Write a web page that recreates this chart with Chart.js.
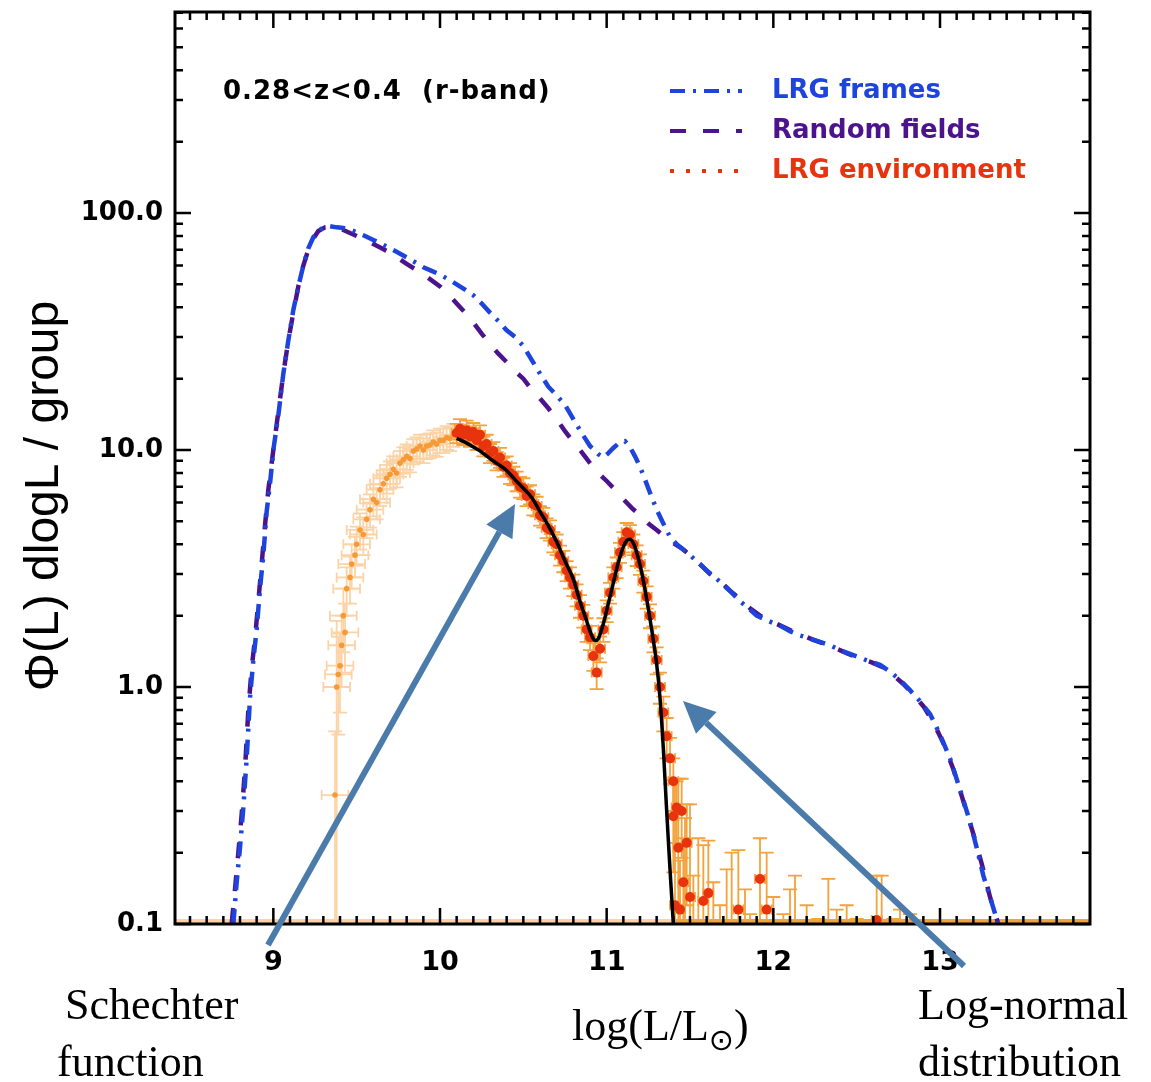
<!DOCTYPE html>
<html>
<head>
<meta charset="utf-8">
<title>LRG luminosity function</title>
<script src="https://cdn.jsdelivr.net/npm/chart.js@4.4.1/dist/chart.umd.min.js"></script>
<style>
  html, body { margin: 0; padding: 0; background: #fff; }
  canvas { display: block; }
</style>
</head>
<body>
<canvas id="lfChart" width="1151" height="1082"></canvas>
<script>
// axis ticks
const xTicks = [9, 10, 11, 12, 13];
const yTicks = [0.1, 1, 10, 100];
const yTickLabels = ['0.1', '1.0', '10.0', '100.0'];

// LRG frames (blue, dash-dot)
const framesX = [
  8.76, 8.78, 8.80, 8.82, 8.84, 8.86, 8.88, 8.90, 8.92, 8.94,
  8.96, 8.98, 9.00, 9.03, 9.06, 9.09, 9.12, 9.15, 9.18, 9.21,
  9.24, 9.27, 9.30, 9.34, 9.38, 9.42, 9.46, 9.50, 9.55, 9.60,
  9.65, 9.70, 9.75, 9.80, 9.85, 9.90, 9.95, 10.00, 10.05, 10.10,
  10.15, 10.20, 10.25, 10.30, 10.35, 10.40, 10.45, 10.50, 10.55, 10.60,
  10.65, 10.70, 10.75, 10.80, 10.85, 10.90, 10.95, 10.98, 11.01, 11.04,
  11.08, 11.11, 11.14, 11.17, 11.20, 11.23, 11.26, 11.30, 11.34, 11.38,
  11.42, 11.46, 11.50, 11.55, 11.60, 11.65, 11.70, 11.75, 11.80, 11.85,
  11.90, 11.95, 12.00, 12.05, 12.10, 12.16, 12.22, 12.28, 12.34, 12.40,
  12.46, 12.52, 12.58, 12.64, 12.70, 12.76, 12.82, 12.88, 12.94, 13.00,
  13.06, 13.12, 13.18, 13.22, 13.26, 13.30, 13.34, 13.37
];
const framesY = [
  0.1, 0.15, 0.21, 0.31, 0.5, 0.9, 1.3, 1.75, 2.6, 3.6,
  5.5, 7.2, 10, 14, 21, 29, 39, 49, 60, 71,
  79, 84, 87, 88, 87, 86.5, 85, 83, 80, 77,
  74, 71, 68, 65, 62, 59, 57, 55, 52.5, 50,
  47.5, 45, 41.5, 38, 35, 32, 30, 27.5, 24, 21,
  18.5, 17, 15.5, 13.5, 11.8, 10.4, 9.6, 9.3, 9.7, 10.2,
  10.8, 10.9, 10.3, 9.4, 8.5, 7.5, 6.6, 5.6, 4.9, 4.3,
  4.0, 3.8, 3.6, 3.35, 3.1, 2.9, 2.7, 2.5, 2.3, 2.15,
  2.0, 1.93, 1.86, 1.8, 1.72, 1.65, 1.6, 1.55, 1.5, 1.43,
  1.38, 1.33, 1.28, 1.24, 1.16, 1.07, 0.97, 0.87, 0.77, 0.63,
  0.5, 0.37, 0.27, 0.21, 0.16, 0.13, 0.105, 0.09
];

// Random fields (purple, dashed)
const randomX = [
  8.75, 8.77, 8.79, 8.81, 8.83, 8.85, 8.87, 8.89, 8.91, 8.93,
  8.95, 8.97, 9.00, 9.03, 9.06, 9.09, 9.12, 9.15, 9.18, 9.21,
  9.24, 9.27, 9.31, 9.35, 9.40, 9.45, 9.50, 9.55, 9.60, 9.65,
  9.70, 9.75, 9.80, 9.85, 9.90, 9.95, 10.00, 10.05, 10.10, 10.15,
  10.20, 10.25, 10.30, 10.35, 10.40, 10.45, 10.50, 10.55, 10.60, 10.65,
  10.70, 10.75, 10.80, 10.85, 10.90, 10.95, 11.00, 11.05, 11.10, 11.15,
  11.20, 11.25, 11.30, 11.35, 11.40, 11.45, 11.50, 11.56, 11.62, 11.68,
  11.74, 11.80, 11.86, 11.92, 11.98, 12.04, 12.10, 12.17, 12.24, 12.31,
  12.38, 12.45, 12.52, 12.59, 12.66, 12.72, 12.78, 12.84, 12.90, 12.96,
  13.02, 13.08, 13.14, 13.20, 13.25, 13.30, 13.35, 13.38
];
const randomY = [
  0.1, 0.14, 0.2, 0.29, 0.45, 0.8, 1.2, 1.6, 2.3, 3.3,
  4.8, 6.8, 10, 14.5, 21, 29, 38, 49, 60, 70,
  78, 84, 87, 87.5, 86, 83, 80, 77, 74, 71,
  68, 64.5, 61, 58, 55, 52, 49, 45.5, 41.5, 38,
  34.5, 31, 28, 25.5, 23.5, 21.5, 20, 18, 16.5, 15,
  13.5, 12, 10.8, 9.8, 8.8, 8.0, 7.4, 6.8, 6.2, 5.7,
  5.3, 4.9, 4.6, 4.3, 4.05, 3.85, 3.6, 3.3, 3.0, 2.8,
  2.55, 2.35, 2.15, 2.0, 1.9, 1.82, 1.74, 1.66, 1.58, 1.52,
  1.45, 1.38, 1.32, 1.27, 1.21, 1.12, 1.03, 0.93, 0.83, 0.71,
  0.58, 0.45, 0.33, 0.24, 0.18, 0.13, 0.1, 0.085
];

// fitted Schechter + log-normal (black)
const fitX = [
  10.10, 10.15, 10.20, 10.25, 10.30, 10.35, 10.40, 10.45, 10.50, 10.55,
  10.60, 10.65, 10.70, 10.75, 10.80, 10.84, 10.88, 10.91, 10.93, 10.95,
  10.98, 11.01, 11.04, 11.07, 11.10, 11.12, 11.14, 11.16, 11.18, 11.21,
  11.24, 11.27, 11.30, 11.32, 11.34, 11.36, 11.38, 11.40
];
const fitY = [
  11.2, 10.8, 10.3, 9.8, 9.2, 8.7, 8.2, 7.5, 6.9, 6.3,
  5.5, 4.8, 4.1, 3.4, 2.85, 2.3, 1.9, 1.65, 1.57, 1.6,
  1.85, 2.25, 2.75, 3.35, 3.9, 4.15, 4.2, 4.05, 3.7, 3.05,
  2.35, 1.75, 1.25, 0.9, 0.55, 0.3, 0.17, 0.1
];

// LRG environment, faint end (light orange)
const faintX = [
  9.37, 9.38, 9.39, 9.40, 9.41, 9.42, 9.43, 9.44, 9.46, 9.47,
  9.49, 9.50, 9.52, 9.54, 9.56, 9.58, 9.60, 9.62, 9.64, 9.66,
  9.68, 9.70, 9.72, 9.74, 9.76, 9.78, 9.80, 9.82, 9.84, 9.86,
  9.88, 9.90, 9.92, 9.94, 9.96, 9.98, 10.00, 10.02, 10.04, 10.06,
  10.08
];
const faintY = [
  0.35, 1.0, 1.13, 1.23, 1.5, 2.0, 1.7, 2.6, 2.9, 3.3,
  3.6, 4.0, 4.6, 4.4, 5.1, 5.6, 6.2, 6.0, 6.8, 7.2,
  7.6, 7.9, 8.3, 8.0, 8.8, 9.1, 9.4, 9.2, 9.9, 10.1,
  10.4, 10.0, 10.4, 10.5, 10.8, 10.6, 11.0, 11.0, 11.3, 11.2,
  11.6
];
const faintErr = [
  0.3, 0.9, 0.5, 0.45, 0.5, 0.6, 0.55, 0.6, 0.65, 0.7,
  0.7, 0.75, 0.8, 0.8, 0.85, 0.9, 0.95, 0.9, 1.0, 1.0,
  1.05, 1.05, 1.1, 1.05, 1.1, 1.15, 1.15, 1.15, 1.2, 1.2,
  1.2, 1.2, 1.25, 1.25, 1.3, 1.25, 1.3, 1.3, 1.3, 1.3,
  1.3
];

// LRG environment, fitted range (red)
const envX = [
  10.10, 10.12, 10.14, 10.16, 10.18, 10.20, 10.22, 10.24, 10.26, 10.28,
  10.30, 10.32, 10.34, 10.36, 10.38, 10.40, 10.42, 10.44, 10.46, 10.48,
  10.50, 10.52, 10.54, 10.56, 10.58, 10.60, 10.62, 10.64, 10.66, 10.68,
  10.70, 10.72, 10.74, 10.76, 10.78, 10.80, 10.82, 10.84, 10.86, 10.88,
  10.90, 10.92, 10.94, 10.96, 10.98, 11.00, 11.02, 11.04, 11.06, 11.08,
  11.10, 11.12, 11.14, 11.16, 11.18, 11.20, 11.22, 11.24, 11.26, 11.28,
  11.30, 11.32, 11.34, 11.36, 11.38, 11.40, 11.42
];
const envY = [
  11.8, 12.3, 11.6, 12.1, 11.4, 11.9, 11.0, 11.6, 10.4, 10.6,
  9.7, 9.9, 9.0, 9.3, 8.5, 8.6, 8.0, 7.8, 7.4, 7.0,
  6.9, 6.4, 6.5, 5.9, 5.8, 5.3, 5.2, 4.7, 4.6, 4.1,
  4.0, 3.6, 3.4, 3.1, 2.9, 2.7, 2.45, 2.2, 2.0, 1.75,
  1.62, 1.35, 1.15, 1.45, 1.75, 2.1, 2.5, 2.9, 3.2, 3.7,
  4.1, 4.5, 4.4, 4.0, 3.6, 3.3, 2.8, 2.4, 2.0, 1.6,
  1.3, 1.0, 0.78, 0.62, 0.5, 0.4, 0.31
];
const envErr = [
  1.1, 1.2, 1.1, 1.2, 1.1, 1.1, 1.0, 1.1, 1.0, 1.0,
  0.9, 0.9, 0.8, 0.9, 0.8, 0.8, 0.8, 0.7, 0.7, 0.7,
  0.7, 0.6, 0.6, 0.6, 0.55, 0.5, 0.5, 0.45, 0.45, 0.4,
  0.4, 0.35, 0.35, 0.3, 0.3, 0.28, 0.26, 0.24, 0.22, 0.2,
  0.19, 0.18, 0.17, 0.18, 0.2, 0.22, 0.25, 0.3, 0.32, 0.36,
  0.4, 0.42, 0.42, 0.4, 0.36, 0.33, 0.3, 0.26, 0.23, 0.2,
  0.17, 0.15, 0.13, 0.12, 0.11, 0.1, 0.09
];

// LRG environment, bright tail (0 = below plotted range)
const tailX = [
  11.40, 11.41, 11.43, 11.44, 11.45, 11.46, 11.47, 11.48, 11.50, 11.52,
  11.55, 11.58, 11.61, 11.64, 11.68, 11.72, 11.75, 11.79, 11.83, 11.86,
  11.92, 11.96, 12.00, 12.06, 12.10, 12.13, 12.20, 12.27, 12.33, 12.38,
  12.44, 12.50, 12.62, 12.65, 12.72, 12.76, 12.82
];
const tailY = [
  0.285, 0.12, 0.21, 0.115, 0.30, 0.15, 0, 0.22, 0.13, 0,
  0, 0.125, 0.135, 0, 0, 0, 0, 0.115, 0, 0,
  0.155, 0.115, 0, 0, 0, 0, 0, 0, 0, 0,
  0, 0, 0.104, 0, 0, 0, 0
];
const tailErr = [
  0.12, 0.29, 0.2, 0.07, 0.11, 0.08, 0.28, 0.1, 0.19, 0.16,
  0.23, 0.09, 0.09, 0.15, 0.12, 0.17, 0.2, 0.09, 0.14, 0.11,
  0.075, 0.085, 0.13, 0.11, 0.14, 0.16, 0.12, 0.105, 0.155, 0.115,
  0.12, 0.105, 0.056, 0.16, 0.105, 0.115, 0.11
];

// empty bins piled on the lower edge
const floorFaintX = [8.41, 11.40];
const floorBrightX = [11.40, 13.90];
const floorLevel = [0.1, 0.1];

// arrows: [x, y] of tail and head, in data units
const arrowSchechter = [[8.968, 0.0815], [10.45, 5.92]];
const arrowLogNormal = [[13.144, 0.0665], [11.458, 0.873]];

const blue = '#1d44dd';
const purple = '#4b148c';
const red = '#e8330f';
const orange = '#f3a23c';
const peach = '#fcd3a6';
const arrowBlue = '#4a7bab';

const toPoints = (xs, ys) => xs.map((x, i) => ({ x: x, y: ys[i] })).filter(p => p.y > 0);

function drawErrorBars(chart, xs, ys, errs, xErr, color, capW) {
  const c = chart.ctx, sx = chart.scales.x, sy = chart.scales.y, a = chart.chartArea;
  c.save();
  c.beginPath();
  c.rect(a.left, a.top, a.right - a.left, a.bottom - a.top);
  c.clip();
  c.strokeStyle = color;
  c.lineWidth = 1.8;
  xs.forEach((x, i) => {
    const y = ys[i], e = errs[i];
    const px = sx.getPixelForValue(x);
    const top = sy.getPixelForValue(y + e);
    const low = y - e;
    const bot = low > 0 ? sy.getPixelForValue(low) : a.bottom + 10;
    c.beginPath();
    c.moveTo(px, bot); c.lineTo(px, top);
    c.moveTo(px - capW, top); c.lineTo(px + capW, top);
    if (low > 0) { c.moveTo(px - capW, bot); c.lineTo(px + capW, bot); }
    if (y > 0 && xErr > 0) {
      const py = sy.getPixelForValue(y);
      const l = sx.getPixelForValue(x - xErr), r = sx.getPixelForValue(x + xErr);
      c.moveTo(l, py); c.lineTo(r, py);
      c.moveTo(l, py - 5); c.lineTo(l, py + 5);
      c.moveTo(r, py - 5); c.lineTo(r, py + 5);
    }
    c.stroke();
  });
  c.restore();
}

function drawArrow(chart, pts) {
  const c = chart.ctx, sx = chart.scales.x, sy = chart.scales.y;
  const x0 = sx.getPixelForValue(pts[0][0]), y0 = sy.getPixelForValue(pts[0][1]);
  const x1 = sx.getPixelForValue(pts[1][0]), y1 = sy.getPixelForValue(pts[1][1]);
  const ang = Math.atan2(y1 - y0, x1 - x0);
  const headL = 32, headW = 15;
  const bx = x1 - headL * Math.cos(ang), by = y1 - headL * Math.sin(ang);
  c.save();
  c.strokeStyle = arrowBlue;
  c.fillStyle = arrowBlue;
  c.lineWidth = 6;
  c.beginPath();
  c.moveTo(x0, y0);
  c.lineTo(bx, by);
  c.stroke();
  c.beginPath();
  c.moveTo(x1, y1);
  c.lineTo(bx + headW * Math.sin(ang), by - headW * Math.cos(ang));
  c.lineTo(bx - headW * Math.sin(ang), by + headW * Math.cos(ang));
  c.closePath();
  c.fill();
  c.restore();
}

function drawFrame(chart) {
  const c = chart.ctx, sx = chart.scales.x, sy = chart.scales.y;
  const { left, right, top, bottom } = chart.chartArea;
  c.save();
  c.strokeStyle = '#000';
  c.lineWidth = 2.5;
  // x ticks every 0.1, long at whole numbers
  for (let k = 85; k <= 138; k++) {
    const px = sx.getPixelForValue(k / 10);
    const len = k % 10 === 0 ? 16 : 8;
    c.beginPath();
    c.moveTo(px, bottom); c.lineTo(px, bottom - len);
    c.moveTo(px, top); c.lineTo(px, top + len);
    c.stroke();
  }
  // y ticks at 1..9 in each decade
  yTicks.forEach(d => {
    for (let m = 1; m <= 9; m++) {
      const v = d * m;
      if (v > sy.max) break;
      const py = sy.getPixelForValue(v);
      const len = m === 1 ? 16 : 8;
      c.beginPath();
      c.moveTo(left, py); c.lineTo(left + len, py);
      c.moveTo(right, py); c.lineTo(right - len, py);
      c.stroke();
    }
  });
  c.lineWidth = 3;
  c.strokeRect(left, top, right - left, bottom - top);
  c.restore();
}

function drawTexts(chart) {
  const c = chart.ctx;
  c.save();
  c.textBaseline = 'middle';
  c.fillStyle = '#000';
  c.font = 'bold 26px "DejaVu Sans"';
  c.letterSpacing = '1px';
  c.fillText('0.28<z<0.4  (r-band)', 223, 92);
  c.letterSpacing = '0px';

  // legend
  const items = [
    { label: 'LRG frames', color: blue, dash: [15, 8, 3, 8] },
    { label: 'Random fields', color: purple, dash: [16, 17] },
    { label: 'LRG environment', color: red, dash: [4, 12] }
  ];
  items.forEach((it, i) => {
    const y = 91 + i * 40;
    c.strokeStyle = it.color;
    c.lineWidth = 4;
    c.setLineDash(it.dash);
    c.beginPath();
    c.moveTo(670, y); c.lineTo(742, y);
    c.stroke();
    c.setLineDash([]);
    c.fillStyle = it.color;
    c.fillText(it.label, 772, y);
  });

  // y axis title
  c.save();
  c.translate(45, 496);
  c.rotate(-Math.PI / 2);
  c.textAlign = 'center';
  c.fillStyle = '#000';
  c.font = '48px "Liberation Sans"';
  c.fillText('\u03A6(L) dlogL / group', 0, 0);
  c.restore();

  // captions under the plot
  c.fillStyle = '#000';
  c.textBaseline = 'alphabetic';
  c.font = '44px "Liberation Serif"';
  c.fillText('Schechter', 65, 1019);
  c.fillText('function', 57, 1076);
  c.fillText('Log-normal', 918, 1019);
  c.fillText('distribution', 918, 1076);
  let x = 572;
  c.fillText('log(L/L', x, 1040);
  x += c.measureText('log(L/L').width;
  c.font = '30px "DejaVu Sans"';
  c.fillText('\u2299', x, 1050);
  x += c.measureText('\u2299').width;
  c.font = '44px "Liberation Serif"';
  c.fillText(')', x, 1040);
  c.restore();
}

const decor = {
  id: 'decor',
  beforeDraw(chart) {
    const c = chart.ctx;
    c.save();
    c.fillStyle = '#fff';
    c.fillRect(0, 0, chart.width, chart.height);
    c.restore();
  },
  beforeDatasetsDraw(chart) {
    drawErrorBars(chart, faintX, faintY, faintErr, 0.08, peach, 7);
    drawErrorBars(chart, envX, envY, envErr, 0.03, orange, 7);
    drawErrorBars(chart, tailX, tailY, tailErr, 0.03, orange, 7);
  },
  afterDraw(chart) {
    drawFrame(chart);
    drawArrow(chart, arrowSchechter);
    drawArrow(chart, arrowLogNormal);
    drawTexts(chart);
  }
};

new Chart(document.getElementById('lfChart'), {
  type: 'line',
  data: {
    datasets: [
      {
        label: 'LRG frames',
        data: toPoints(framesX, framesY),
        borderColor: blue,
        borderWidth: 4.5,
        borderDash: [15, 8, 3, 8],
        pointRadius: 0,
        order: 1
      },
      {
        label: 'Random fields',
        data: toPoints(randomX, randomY),
        borderColor: purple,
        borderWidth: 4.5,
        borderDash: [16, 17],
        pointRadius: 0,
        order: 2
      },
      {
        label: 'Fit',
        data: toPoints(fitX, fitY),
        borderColor: '#000',
        borderWidth: 3.5,
        cubicInterpolationMode: 'monotone',
        pointRadius: 0,
        order: 3
      },
      {
        label: 'LRG environment',
        data: toPoints(envX, envY).concat(toPoints(tailX, tailY)),
        showLine: false,
        pointRadius: 5,
        pointBorderWidth: 0,
        pointBackgroundColor: red,
        order: 4
      },
      {
        label: 'LRG environment (faint)',
        data: toPoints(faintX, faintY),
        showLine: false,
        pointRadius: 2.8,
        pointBorderWidth: 0,
        pointBackgroundColor: '#f59a35',
        order: 5
      },
      {
        label: 'floor faint',
        data: toPoints(floorFaintX, floorLevel),
        borderColor: peach,
        borderWidth: 10,
        pointRadius: 0,
        clip: 0,
        order: 6
      },
      {
        label: 'floor bright',
        data: toPoints(floorBrightX, floorLevel),
        borderColor: orange,
        borderWidth: 10,
        pointRadius: 0,
        clip: 0,
        order: 6
      }
    ]
  },
  options: {
    responsive: false,
    animation: false,
    devicePixelRatio: 1,
    layout: { padding: { top: 12, right: 61, left: 0, bottom: 0 } },
    plugins: { legend: { display: false }, tooltip: { enabled: false } },
    scales: {
      x: {
        type: 'linear',
        min: 8.41,
        max: 13.9,
        grid: { display: false },
        border: { display: false },
        afterBuildTicks: s => { s.ticks = xTicks.map(v => ({ value: v })); },
        afterFit: s => { s.height = 158; s.paddingLeft = 0; s.paddingRight = 0; },
        ticks: {
          autoSkip: false,
          maxRotation: 0,
          padding: 15,
          color: '#000',
          font: { family: 'DejaVu Sans', weight: 'bold', size: 27 },
          callback: v => String(v)
        }
      },
      y: {
        type: 'logarithmic',
        min: 0.1,
        max: 705,
        grid: { display: false },
        border: { display: false },
        afterBuildTicks: s => { s.ticks = yTicks.map(v => ({ value: v })); },
        afterFit: s => { s.width = 175; s.paddingTop = 0; s.paddingBottom = 0; },
        ticks: {
          autoSkip: false,
          padding: 4,
          color: '#000',
          font: { family: 'DejaVu Sans', weight: 'bold', size: 26 },
          callback: (v, i) => yTickLabels[i]
        }
      }
    }
  },
  plugins: [decor]
});
</script>
</body>
</html>
